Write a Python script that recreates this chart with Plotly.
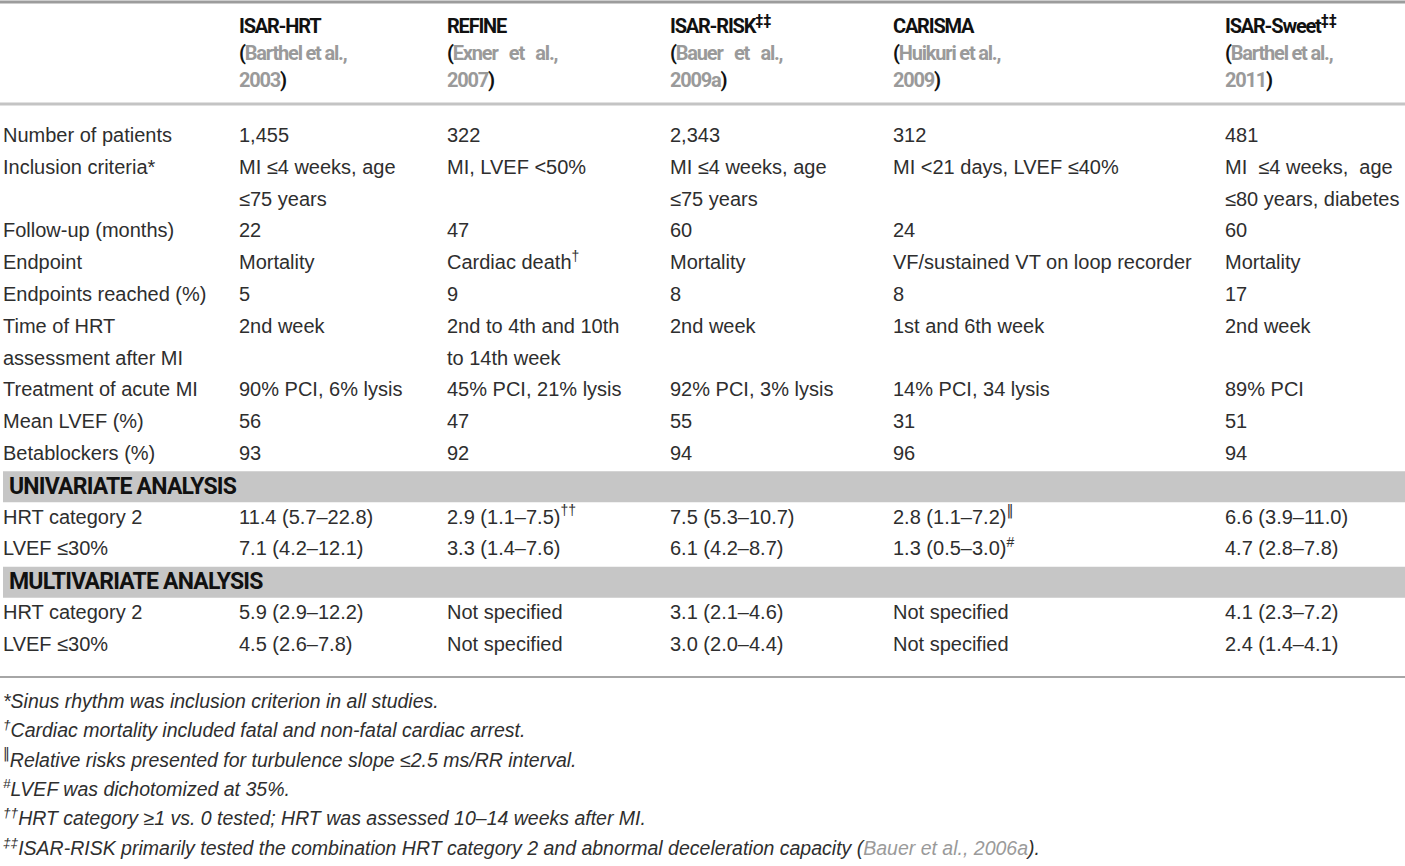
import plotly.graph_objects as go

# ---- table content ----
studies = ["ISAR-HRT", "REFINE", "ISAR-RISK<sup>‡‡</sup>", "CARISMA", "ISAR-Sweet<sup>‡‡</sup>"]
cite_authors = ["Barthel et al.,", "Exner\u00a0\u00a0 et\u00a0\u00a0 al.,", "Bauer\u00a0\u00a0 et\u00a0\u00a0 al.,",
                "Huikuri et al.,", "Barthel et al.,"]
cite_years = ["2003", "2007", "2009a", "2009", "2011"]

row_labels = ["Number of patients", "Inclusion criteria*", "Follow-up (months)", "Endpoint",
              "Endpoints reached (%)", "Time of HRT\nassessment after MI", "Treatment of acute MI",
              "Mean LVEF (%)", "Betablockers (%)"]

n_patients = ["1,455", "322", "2,343", "312", "481"]
inclusion = ["MI ≤4 weeks, age\n≤75 years", "MI, LVEF <50%", "MI ≤4 weeks, age\n≤75 years",
             "MI <21 days, LVEF ≤40%", "MI\u00a0 ≤4 weeks,\u00a0 age\n≤80 years, diabetes"]
follow_up = ["22", "47", "60", "24", "60"]
endpoint = ["Mortality", "Cardiac death<sup>†</sup>", "Mortality", "VF/sustained VT on loop recorder", "Mortality"]
endpoints_reached = ["5", "9", "8", "8", "17"]
hrt_time = ["2nd week", "2nd to 4th and 10th\nto 14th week", "2nd week", "1st and 6th week", "2nd week"]
treatment = ["90% PCI, 6% lysis", "45% PCI, 21% lysis", "92% PCI, 3% lysis", "14% PCI, 34 lysis", "89% PCI"]
mean_lvef = ["56", "47", "55", "31", "51"]
betablockers = ["93", "92", "94", "96", "94"]

DBAR = "<span style='font-family:DejaVu Sans'>‖</span>"

uni_title = "UNIVARIATE ANALYSIS"
multi_title = "MULTIVARIATE ANALYSIS"
analysis_labels = ["HRT category 2", "LVEF ≤30%"]
uni_hrt = ["11.4 (5.7–22.8)", "2.9 (1.1–7.5)<sup>††</sup>", "7.5 (5.3–10.7)", "2.8 (1.1–7.2)<sup>" + DBAR + "</sup>",
           "6.6 (3.9–11.0)"]
uni_lvef = ["7.1 (4.2–12.1)", "3.3 (1.4–7.6)", "6.1 (4.2–8.7)", "1.3 (0.5–3.0)<sup>#</sup>", "4.7 (2.8–7.8)"]
multi_hrt = ["5.9 (2.9–12.2)", "Not specified", "3.1 (2.1–4.6)", "Not specified", "4.1 (2.3–7.2)"]
multi_lvef = ["4.5 (2.6–7.8)", "Not specified", "3.0 (2.0–4.4)", "Not specified", "2.4 (1.4–4.1)"]

footnotes = [
    "*Sinus rhythm was inclusion criterion in all studies.",
    "<sup>†</sup>Cardiac mortality included fatal and non-fatal cardiac arrest.",
    "<sup>" + DBAR + "</sup>Relative risks presented for turbulence slope ≤2.5 ms/RR interval.",
    "<sup>#</sup>LVEF was dichotomized at 35%.",
    "<sup>††</sup>HRT category ≥1 vs. 0 tested; HRT was assessed 10–14 weeks after MI.",
    "<sup>‡‡</sup>ISAR-RISK primarily tested the combination HRT category 2 and abnormal deceleration "
    "capacity (<span style='color:#9a9a9a'>Bauer et al., 2006a</span>).",
]

body_rows = [n_patients, inclusion, follow_up, endpoint, endpoints_reached,
             hrt_time, treatment, mean_lvef, betablockers]

# ---- layout constants ----
W, H = 1405, 866
col_x = [3, 239, 447, 670, 893, 1225]
head_y = [28, 55, 82]
line0, step = 137, 31.8
foot0, foot_step = 703, 29.4
GRAY = "#9a9a9a"
INK = "#2e2e2e"

body = {"x": [], "y": [], "t": []}
head = {"x": [], "y": [], "t": []}
band_txt = {"x": [], "y": [], "t": []}
shapes = []


def put(store, x, y, text):
    store["x"].append(x)
    store["y"].append(y)
    store["t"].append(text)


def cell(x, line, text):
    for k, part in enumerate(text.split("\n")):
        put(body, x, line0 + (line + k) * step, part)


def tight(text, color=None, ls=-1.2):
    style = "letter-spacing:%spx" % ls
    if color is not None:
        style = "color:%s;%s" % (color, style)
    return "<span style='%s'>%s</span>" % (style, text)


# header
for j in range(5):
    x = col_x[j + 1]
    name = studies[j].split("<sup>")
    put(head, x, head_y[0], tight(name[0]) + ("<sup>" + name[1] if len(name) > 1 else ""))
    put(head, x, head_y[1], tight("(") + tight(cite_authors[j], GRAY))
    put(head, x, head_y[2], tight(cite_years[j], GRAY) + tight(")"))

# body rows
line = 0
for label, values in zip(row_labels, body_rows):
    cell(col_x[0], line, label)
    n = max(v.count("\n") for v in values + [label]) + 1
    for j, v in enumerate(values):
        cell(col_x[j + 1], line, v)
    line += n


def section(title, rows, line):
    yc = line0 + line * step
    shapes.append(dict(type="rect", x0=3, x1=W, y0=yc - 15.5, y1=yc + 15.5,
                       fillcolor="#c6c6c6", line=dict(width=0), layer="below"))
    put(band_txt, 9, yc + 1, tight(title, ls=-0.8))
    line += 1
    for label, values in zip(analysis_labels, rows):
        cell(col_x[0], line, label)
        for j, v in enumerate(values):
            cell(col_x[j + 1], line, v)
        line += 1
    return line


line = section(uni_title, [uni_hrt, uni_lvef], line)
line = section(multi_title, [multi_hrt, multi_lvef], line)

# rules
shapes.append(dict(type="line", x0=0, x1=W, y0=2, y1=2, line=dict(color="#9c9c9c", width=3)))
shapes.append(dict(type="line", x0=0, x1=W, y0=104, y1=104, line=dict(color="#c4c4c4", width=3)))
shapes.append(dict(type="line", x0=0, x1=W, y0=677, y1=677, line=dict(color="#a6a6a6", width=2)))

fig = go.Figure()
fig.add_trace(go.Scatter(x=body["x"], y=body["y"], text=body["t"], mode="text",
                         textposition="middle right", hoverinfo="skip", cliponaxis=False,
                         textfont=dict(family="Liberation Sans, Arial, sans-serif", size=20, color=INK)))
fig.add_trace(go.Scatter(x=head["x"], y=head["y"], text=head["t"], mode="text",
                         textposition="middle right", hoverinfo="skip", cliponaxis=False,
                         textfont=dict(family="Roboto, sans-serif", size=20,
                                       color="#111111", weight="bold")))
fig.add_trace(go.Scatter(x=band_txt["x"], y=band_txt["y"], text=band_txt["t"], mode="text",
                         textposition="middle right", hoverinfo="skip", cliponaxis=False,
                         textfont=dict(family="Roboto, sans-serif", size=23,
                                       color="#111111", weight="bold")))
fig.add_trace(go.Scatter(x=[3] * len(footnotes),
                         y=[foot0 + i * foot_step for i in range(len(footnotes))],
                         text=["<i>%s</i>" % f for f in footnotes], mode="text",
                         textposition="middle right", hoverinfo="skip", cliponaxis=False,
                         textfont=dict(family="Liberation Sans, Arial, sans-serif", size=19.5, color=INK)))

fig.update_layout(
    width=W, height=H,
    margin=dict(l=0, r=0, t=0, b=0),
    paper_bgcolor="white", plot_bgcolor="white",
    showlegend=False,
    shapes=shapes,
    xaxis=dict(range=[0, W], visible=False, fixedrange=True),
    yaxis=dict(range=[H, 0], visible=False, fixedrange=True),
)

fig.write_html("out.html", config={"displayModeBar": False},
               post_script="document.body.style.margin='0px';document.body.style.overflow='hidden';")
